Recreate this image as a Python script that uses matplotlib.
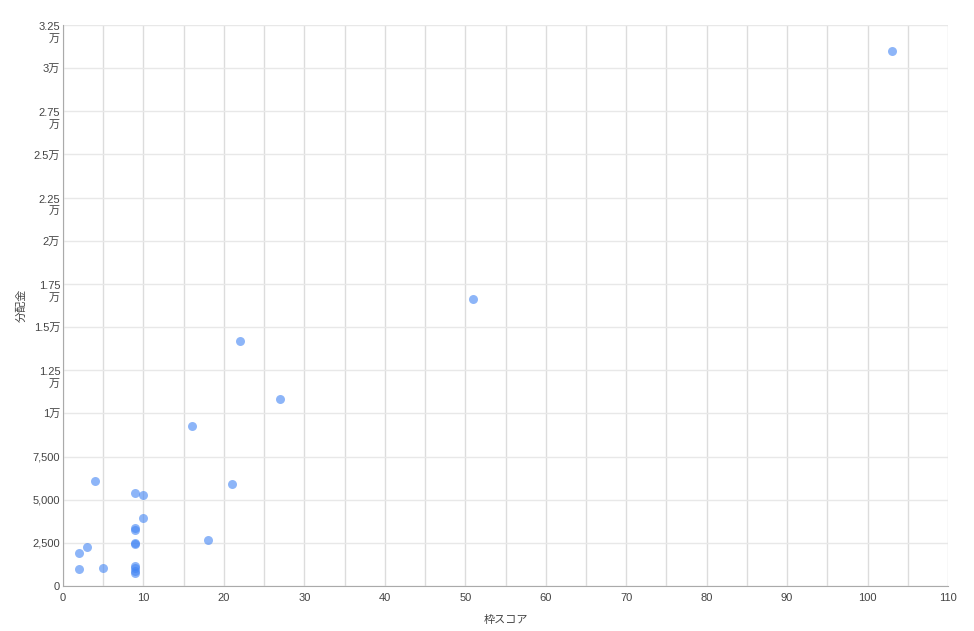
import matplotlib
matplotlib.use("Agg")
import matplotlib.pyplot as plt
from matplotlib.ticker import MultipleLocator
from matplotlib.transforms import ScaledTranslation

plt.rcParams['font.family'] = ['Liberation Sans', 'Noto Sans CJK JP', 'DejaVu Sans']

# 枠スコア と 分配金
waku_score = [103, 51, 22, 27, 16, 21, 18, 4, 9, 10, 10, 9, 9, 9, 9,
              9, 9, 9, 9, 2, 3, 2, 5]
bunpaikin = [31000, 16600, 14200, 10850, 9270, 5910, 2660, 6100, 5370, 5270, 3920, 3340, 3240, 2470, 2420,
             1180, 1030, 890, 770, 1930, 2240, 1000, 1040]

x_ticks = list(range(0, 111, 10))
y_ticks = list(range(0, 32501, 2500))
y_tick_labels = ['0', '2,500', '5,000', '7,500', '1万', '1.25\n万', '1.5万', '1.75\n万',
                 '2万', '2.25\n万', '2.5万', '2.75\n万', '3万', '3.25\n万']

fig = plt.figure(figsize=(9.74, 6.31), dpi=100)
ax = fig.add_axes([63 / 974, 45 / 631, 885 / 974, 561 / 631])

ax.scatter(waku_score, bunpaikin, s=42, color='#4285F4', alpha=0.6, linewidths=0, zorder=3)

ax.set_xlim(0, 110)
ax.set_ylim(0, 32500)
ax.set_xticks(x_ticks)
ax.xaxis.set_minor_locator(MultipleLocator(5))
ax.set_yticks(y_ticks)
ax.set_yticklabels(y_tick_labels)

ax.grid(axis='x', which='both', color='#dcdcdc', linewidth=1, zorder=0)
ax.grid(axis='y', which='major', color='#e8e8e8', linewidth=1, zorder=0)
ax.set_axisbelow(True)

for side in ['top', 'right']:
    ax.spines[side].set_visible(False)
ax.spines['left'].set_color('#aaaaaa')
ax.spines['bottom'].set_color('#aaaaaa')
ax.tick_params(which='both', length=0, labelsize=8, labelcolor='#444444')
ax.tick_params(axis='x', pad=5)
ax.tick_params(axis='y', pad=2)

# 2行ラベルは1行目を目盛りの位置に合わせる
for tl in ax.get_yticklabels():
    if '\n' in tl.get_text():
        tl.set_transform(tl.get_transform() + ScaledTranslation(0, -6 / 100, fig.dpi_scale_trans))

ax.set_xlabel('枠スコア', fontsize=8, color='#444444', labelpad=9)
ax.set_ylabel('分配金', fontsize=8, color='#444444', labelpad=4)

fig.savefig('out.png', dpi=100, facecolor='white')
